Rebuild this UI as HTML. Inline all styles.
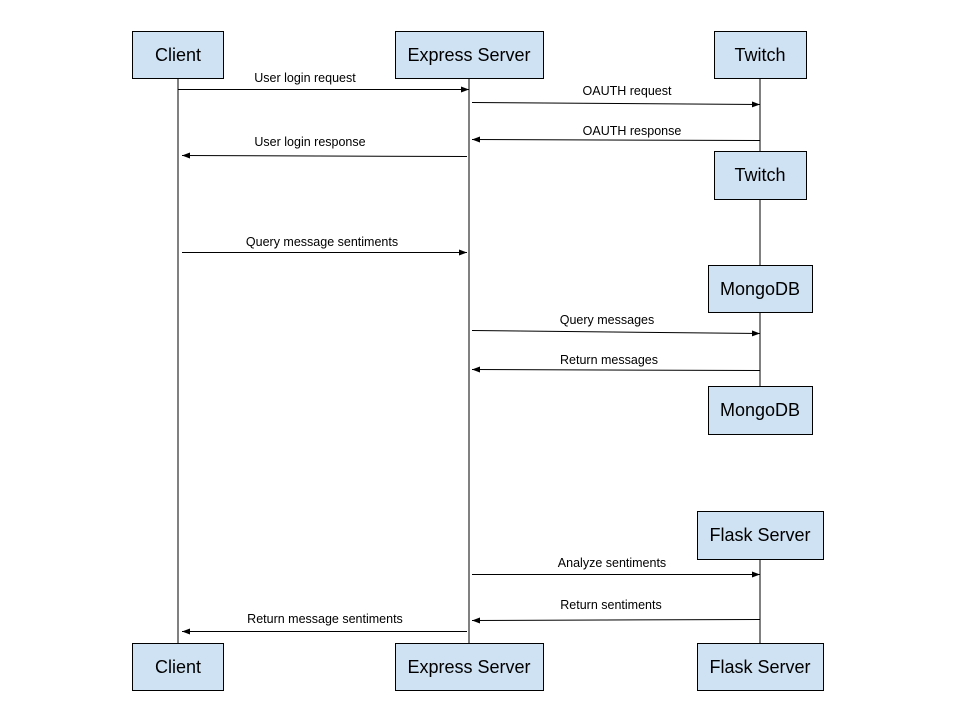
<!DOCTYPE html>
<html><head><meta charset="utf-8"><style>
html,body{margin:0;padding:0;background:#fff;}
svg{display:block;}
.b{fill:#cfe2f3;stroke:#000;stroke-width:1;}
.t{font-family:"Liberation Sans",Arial,sans-serif;font-size:18px;fill:#000;text-anchor:middle;}
.l{font-family:"Liberation Sans",Arial,sans-serif;font-size:12.5px;fill:#000;text-anchor:middle;}
.ln{stroke:#000;stroke-width:1;fill:none;}
</style></head><body>
<svg width="960" height="720" viewBox="0 0 960 720" xmlns="http://www.w3.org/2000/svg">
<defs><marker id="a" markerWidth="8" markerHeight="6" refX="8" refY="3" orient="auto" markerUnits="userSpaceOnUse"><path d="M0,0 L8,3 L0,6 z" fill="#000"/></marker></defs>
<g class="ln">
<line x1="178" y1="78" x2="178" y2="643"/>
<line x1="469" y1="78" x2="469" y2="643"/>
<line x1="760" y1="78" x2="760" y2="151"/>
<line x1="760" y1="199" x2="760" y2="265"/>
<line x1="760" y1="312" x2="760" y2="386"/>
<line x1="760" y1="559" x2="760" y2="643"/>
</g>
<rect class="b" x="132.5" y="31.5" width="91" height="47"/><text class="t" x="178" y="61">Client</text>
<rect class="b" x="395.5" y="31.5" width="148" height="47"/><text class="t" x="469" y="61">Express Server</text>
<rect class="b" x="714.5" y="31.5" width="92" height="47"/><text class="t" x="760" y="61">Twitch</text>
<rect class="b" x="714.5" y="151.5" width="92" height="48"/><text class="t" x="760" y="181">Twitch</text>
<rect class="b" x="708.5" y="265.5" width="104" height="47"/><text class="t" x="760" y="295">MongoDB</text>
<rect class="b" x="708.5" y="386.5" width="104" height="48"/><text class="t" x="760" y="416">MongoDB</text>
<rect class="b" x="697.5" y="511.5" width="126" height="48"/><text class="t" x="760" y="541">Flask Server</text>
<rect class="b" x="132.5" y="643.5" width="91" height="47"/><text class="t" x="178" y="673">Client</text>
<rect class="b" x="395.5" y="643.5" width="148" height="47"/><text class="t" x="469" y="673">Express Server</text>
<rect class="b" x="697.5" y="643.5" width="126" height="47"/><text class="t" x="760" y="673">Flask Server</text>
<g class="ln">
<line x1="178" y1="89.5" x2="469" y2="89.5" marker-end="url(#a)"/>
<line x1="472" y1="102.5" x2="760" y2="104.5" marker-end="url(#a)"/>
<line x1="760" y1="140.5" x2="472" y2="139.5" marker-end="url(#a)"/>
<line x1="467" y1="156.5" x2="182" y2="155.5" marker-end="url(#a)"/>
<line x1="182" y1="252.5" x2="467" y2="252.5" marker-end="url(#a)"/>
<line x1="472" y1="330.5" x2="760" y2="333.5" marker-end="url(#a)"/>
<line x1="760" y1="370.5" x2="472" y2="369.5" marker-end="url(#a)"/>
<line x1="472" y1="574.5" x2="760" y2="574.5" marker-end="url(#a)"/>
<line x1="760" y1="619.5" x2="472" y2="620.5" marker-end="url(#a)"/>
<line x1="467" y1="631.5" x2="182" y2="631.5" marker-end="url(#a)"/>
</g>
<text class="l" x="305" y="82">User login request</text>
<text class="l" x="627" y="95">OAUTH request</text>
<text class="l" x="632" y="135">OAUTH response</text>
<text class="l" x="310" y="146">User login response</text>
<text class="l" x="322" y="246">Query message sentiments</text>
<text class="l" x="607" y="324">Query messages</text>
<text class="l" x="609" y="364">Return messages</text>
<text class="l" x="612" y="567">Analyze sentiments</text>
<text class="l" x="611" y="609">Return sentiments</text>
<text class="l" x="325" y="623">Return message sentiments</text>
</svg>
</body></html>
